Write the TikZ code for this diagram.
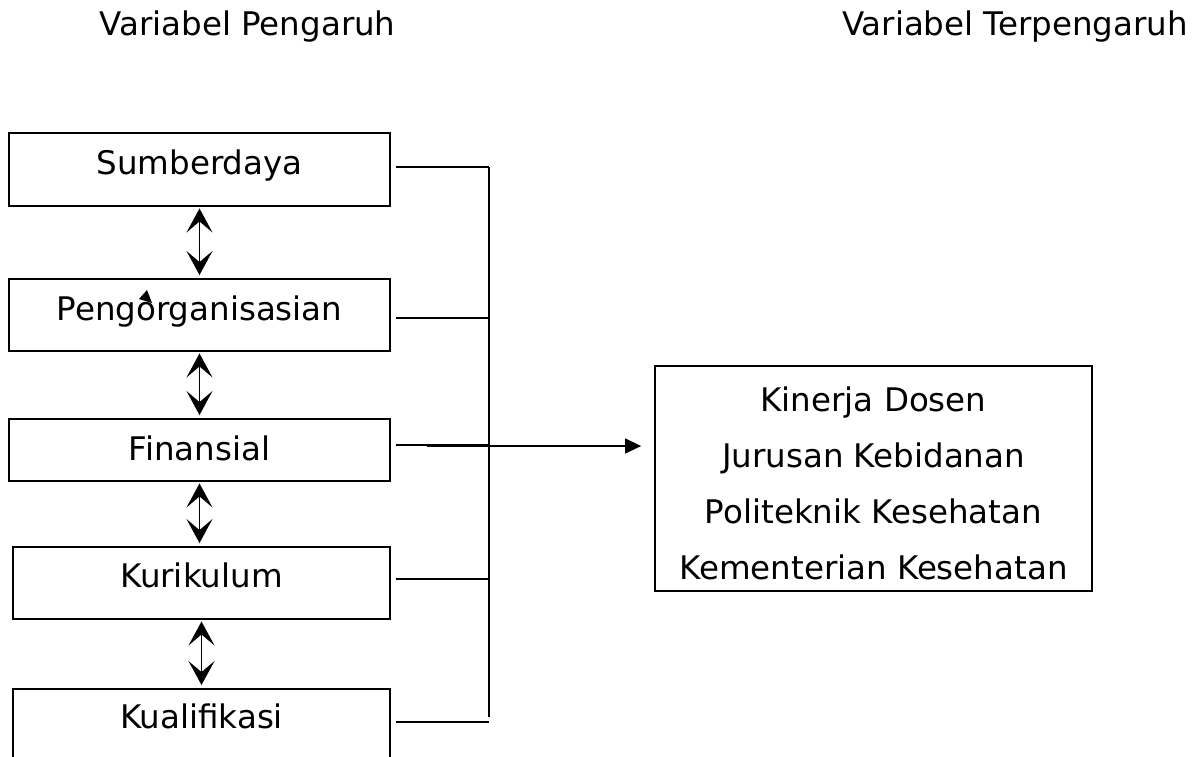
\documentclass[tikz,border=0pt]{standalone}
\usepackage{fontspec}
\setmainfont{DejaVu Sans}
\usetikzlibrary{arrows.meta}

\begin{document}
\begin{tikzpicture}[x=0.02cm, y=-0.02cm, line width=1.1pt,
		varbox/.style={draw, inner sep=0pt, minimum width=7.62cm, font=\fontsize{18.5}{22}\selectfont},
		updown/.style={{Stealth[length=0.48cm, width=0.52cm, inset=0.22cm]}-{Stealth[length=0.48cm, width=0.52cm, inset=0.22cm]}, line width=0.9pt, shorten <=0.03cm, shorten >=0.06cm},
		mainarrow/.style={-{Triangle[length=0.32cm, width=0.3cm]}, line width=0.8pt, shorten <=0.72cm, shorten >=0.26cm}]

		\pgfmathsetmacro{\busx}{489}

		\clip (0,0) rectangle (1197,757);

		% titles
		\node[font=\fontsize{18.5}{22}\selectfont, anchor=base] (kiri) at (247.5,36) {Variabel Pengaruh};
		\node[font=\fontsize{18.5}{22}\selectfont, anchor=base] (kanan) at (1015,36) {Variabel Terpengaruh};

		% draw left boxes
		\node[varbox, text height=0.84cm, text depth=0.62cm] (sumber) at (199.5,169.5) {Sumberdaya};
		\node[varbox, text height=0.82cm, text depth=0.62cm] (organ) at (199.5,315) {Pengorganisasian};
		\node[varbox, text height=0.82cm, text depth=0.42cm] (finan) at (199.5,450) {Finansial};
		\node[varbox, text height=0.80cm, text depth=0.64cm, minimum width=7.54cm] (kurik) at (201.5,583) {Kurikulum};
		\node[varbox, text height=0.78cm, text depth=1.0cm, minimum width=7.54cm] (kual) at (201.5,733.5) {Kualifikasi};

		% draw right box
		\node[draw, minimum width=8.74cm, minimum height=4.5cm, align=center,
			font=\fontsize{18.5}{31.7}\selectfont] (kinerja) at (873.5,478.5)
			{\rule{0pt}{0.69cm}Kinerja Dosen\\Jurusan Kebidanan\\Politeknik Kesehatan\\Kementerian Kesehatan};

		% arrows between the boxes
		\foreach \a/\b in {sumber/organ, organ/finan, finan/kurik, kurik/kual}
		{
			\draw[updown] (\a.south) -- (\a.south |- \b.north);
		}

		% bus on the right
		\coordinate (bus) at (\busx,0);
		\foreach \b/\s in {sumber/0.05, organ/-0.06, finan/0.1, kurik/0.08, kual/0.23}
		{
			\draw[shorten <=0.1cm] ([yshift=\s cm]\b.east) -- ([yshift=\s cm]\b.east -| bus);
		}
		\draw ([yshift=0.05cm]sumber.east -| bus) -- ([yshift=0.33cm]kual.east -| bus);

		\draw[mainarrow] ([yshift=0.08cm]finan.east) -- ([yshift=0.08cm]kinerja.west |- finan.east);

		% stray tip
		\fill (147,290) -- (152,303) -- (139,299) -- cycle;
\end{tikzpicture}
\end{document}
